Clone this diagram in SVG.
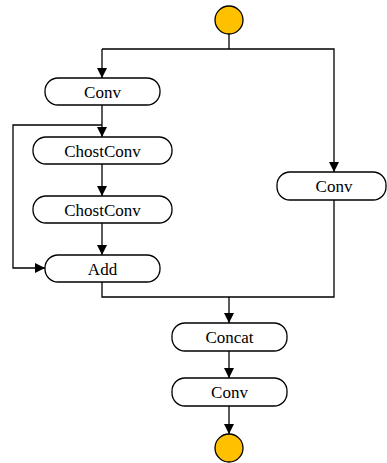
<svg xmlns="http://www.w3.org/2000/svg" width="387" height="463" viewBox="0 0 387 463">
<defs>
<marker id="arr" markerWidth="11" markerHeight="11" refX="10" refY="5.5" orient="auto" markerUnits="userSpaceOnUse">
<path d="M0,0.5 L10,5.5 L0,10.5 Z" fill="#000"/>
</marker>
<style>
.box{fill:#fff;stroke:#000;stroke-width:1.3}
.term{fill:#ffc000;stroke:#000;stroke-width:1.3}
.lbl{font-family:"Liberation Serif","Times New Roman",serif;font-size:17px;fill:#000;text-anchor:middle;dominant-baseline:central}
.ln{fill:none;stroke:#000;stroke-width:1.3}
</style>
</defs>
<rect width="387" height="463" fill="#fff"/>
<g id="connectors">
<path class="ln" d="M229,34 V49"/>
<path class="ln" d="M102,49 H334 V172" marker-end="url(#arr)"/>
<path class="ln" d="M102,49 V78" marker-end="url(#arr)"/>
<path class="ln" d="M102,105 V137" marker-end="url(#arr)"/>
<path class="ln" d="M102,125 H13 V268 H45" marker-end="url(#arr)"/>
<path class="ln" d="M102,164 V196" marker-end="url(#arr)"/>
<path class="ln" d="M102,223 V255" marker-end="url(#arr)"/>
<path class="ln" d="M102,282 V297 H334 V200"/>
<path class="ln" d="M229,297 V323" marker-end="url(#arr)"/>
<path class="ln" d="M229,351 V378" marker-end="url(#arr)"/>
<path class="ln" d="M229,406 V434" marker-end="url(#arr)"/>
</g>
<g id="start"><circle class="term" cx="229" cy="20" r="14"/></g>
<g id="conv1"><rect class="box" x="45" y="78" width="115" height="27" rx="13"/><text class="lbl" x="102.5" y="92">Conv</text></g>
<g id="ghost1"><rect class="box" x="33" y="137" width="139" height="27" rx="13"/><text class="lbl" x="102.5" y="151">ChostConv</text></g>
<g id="ghost2"><rect class="box" x="33" y="196" width="139" height="27" rx="13"/><text class="lbl" x="102.5" y="210">ChostConv</text></g>
<g id="add"><rect class="box" x="45" y="255" width="115" height="27" rx="13"/><text class="lbl" x="102.5" y="269">Add</text></g>
<g id="conv2"><rect class="box" x="277" y="172" width="109" height="28" rx="13"/><text class="lbl" x="334" y="186">Conv</text></g>
<g id="concat"><rect class="box" x="172" y="323" width="115" height="28" rx="13"/><text class="lbl" x="229.5" y="337">Concat</text></g>
<g id="conv3"><rect class="box" x="172" y="378" width="115" height="28" rx="13"/><text class="lbl" x="229.5" y="392">Conv</text></g>
<g id="end"><circle class="term" cx="229" cy="448" r="14"/></g>
</svg>
